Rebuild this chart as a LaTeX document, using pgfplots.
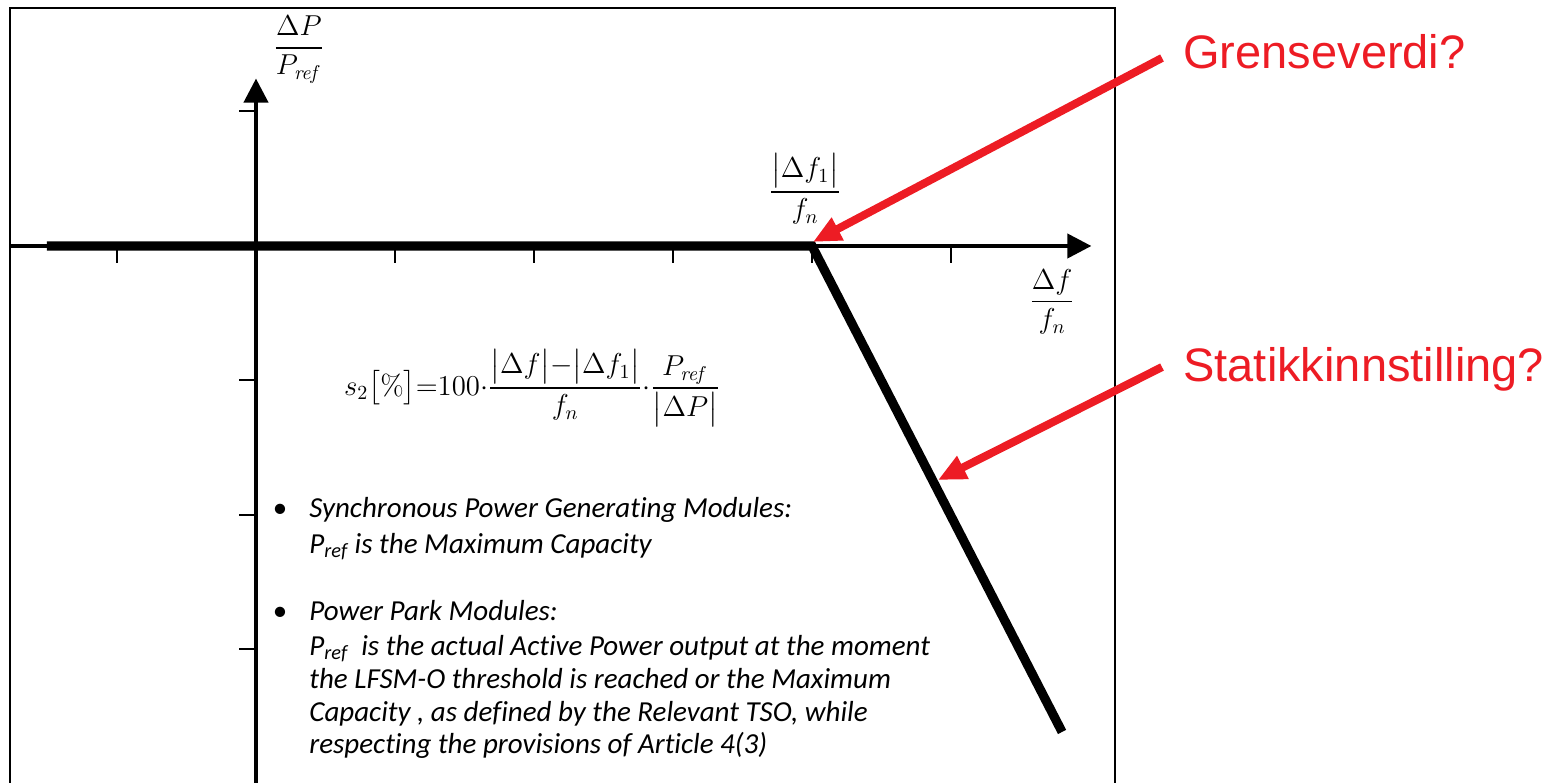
\documentclass[border=0pt]{standalone}
\usepackage{amsmath}
\usepackage[no-math]{fontspec}
\usepackage{pgfplots}
\pgfplotsset{compat=1.18}
\usetikzlibrary{arrows.meta}
\setmainfont[Ligatures=NoCommon]{Carlito}
\newfontfamily\arialfont{Liberation Sans}
\definecolor{annred}{RGB}{237,28,36}

\begin{document}
\begin{tikzpicture}
\begin{axis}[name=ax, width=778.5pt, height=391.5pt, scale only axis, hide axis,
  xmin=-1.84173, xmax=9.35971, ymin=-3.99257, ymax=1.82900, clip=true]
% frame (bottom edge lies below the picture)
\addplot[black, line width=1pt] coordinates {(-1.770,-3.99257) (-1.770,1.770) (6.180,1.770) (6.180,-3.99257)};
% axes with arrows
\addplot[black, line width=2pt, -{Triangle[length=12pt,width=12pt]}] coordinates {(-1.770,0) (6.01,0)};
\addplot[black, line width=2pt, -{Triangle[length=12pt,width=12pt]}] coordinates {(0,-3.99257) (0,1.245)};
% ticks
\pgfplotsinvokeforeach{-1,1,2,3,4,5}{\addplot[black, line width=1pt] coordinates {(#1,0) (#1,-0.126)};}
\pgfplotsinvokeforeach{1,-1,-2,-3}{\addplot[black, line width=1pt] coordinates {(-0.122,#1) (0,#1)};}
% characteristic
\addplot[black, line width=4.6pt] coordinates {(-1.504,0) (4,0) (5.799,-3.613)};
% red annotation arrows
\addplot[annred, line width=4pt, -{Triangle[length=14pt,width=12pt]}] coordinates {(6.518,1.398) (4.007,0.030)};
\addplot[annred, line width=4pt, -{Triangle[length=14pt,width=12pt]}] coordinates {(6.518,-0.900) (4.906,-1.740)};
% red labels
\node[anchor=base west, inner sep=0, text=annred, font=\arialfont\fontsize{23.5}{28}\selectfont] at (axis cs:6.669,1.323) {Grenseverdi?};
\node[anchor=base west, inner sep=0, text=annred, font=\arialfont\fontsize{23.5}{28}\selectfont] at (axis cs:6.669,-1.011) {Statikkinnstilling?};
% math labels
\node[inner sep=0, font=\fontsize{14}{16}\selectfont] at (axis cs:0.309,1.460) {$\dfrac{\Delta P}{P_{\mathit{ref}}}$};
\node[inner sep=0, font=\fontsize{14}{16}\selectfont] at (axis cs:3.950,0.424) {$\dfrac{\bigl|\Delta f_1\bigr|}{f_n}$};
\node[inner sep=0, font=\fontsize{14}{16}\selectfont] at (axis cs:5.727,-0.416) {$\dfrac{\Delta f}{f_n}$};
\node[inner sep=0, font=\fontsize{14}{16}\selectfont] at (axis cs:1.986,-1.056) {$s_2\bigl[\%\bigr]\mathord{=}100\mathord{\cdot}\dfrac{\bigl|\Delta f\bigr|\mathord{-}\bigl|\Delta f_1\bigr|}{f_n}\mathord{\cdot}\dfrac{P_{\mathit{ref}}}{\bigl|\Delta P\bigr|}$};
% bullet text
\node[anchor=base, inner sep=0, font=\fontsize{14.5}{17}\selectfont] at (axis cs:0.173,-2.015) {•};
\node[anchor=base, inner sep=0, font=\fontsize{14.5}{17}\selectfont] at (axis cs:0.173,-2.781) {•};
\begin{scope}[every node/.style={anchor=base west, inner sep=0, font=\fontsize{14.5}{17}\selectfont\itshape}]
\node at (axis cs:0.381,-2.015) {Synchronous Power Generating Modules:};
\node at (axis cs:0.381,-2.283) {P\textsubscript{ref} is the Maximum Capacity};
\node at (axis cs:0.381,-2.781) {Power Park Modules:};
\node at (axis cs:0.381,-3.041) {P\textsubscript{ref}\ \ is the actual Active Power output at the moment};
\node at (axis cs:0.381,-3.290) {the LFSM-O threshold is reached or the Maximum};
\node at (axis cs:0.381,-3.532) {Capacity , as defined by the Relevant TSO, while};
\node at (axis cs:0.381,-3.773) {respecting the provisions of Article 4(3)};
\end{scope}
\end{axis}
\pgfresetboundingbox
\useasboundingbox (ax.south west) rectangle (ax.north east);
\end{tikzpicture}
\end{document}
